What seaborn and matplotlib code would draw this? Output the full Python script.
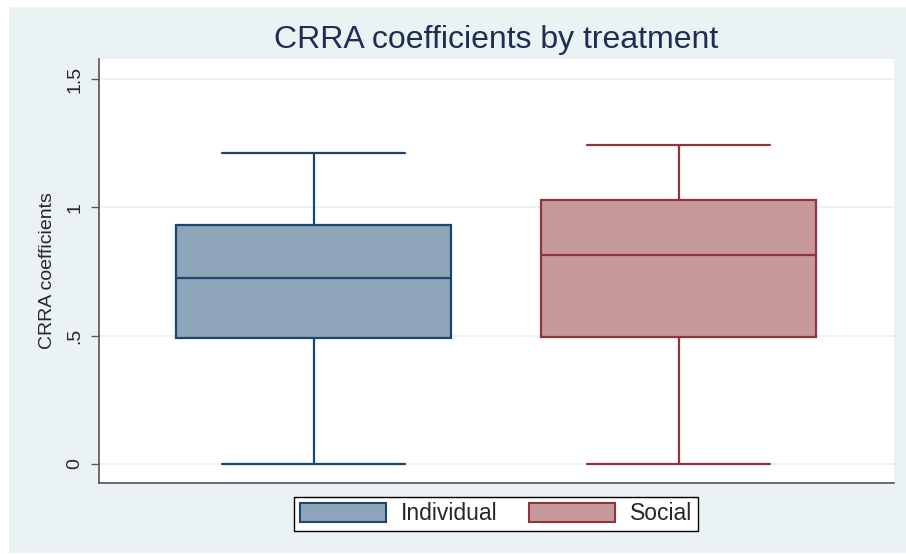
import numpy as np
import pandas as pd
import matplotlib
matplotlib.use('Agg')
import matplotlib.pyplot as plt
from matplotlib.patches import Patch, Rectangle
import seaborn as sns

# ── data (five-number summaries) ──────────────────────────────────────────
TREATMENTS = ['Individual', 'Social']
individual = [0.0, 0.490, 0.726, 0.932, 1.210]   # min, q1, median, q3, max
social = [0.0, 0.496, 0.814, 1.027, 1.243]

FILLS = ['#8DA4B9', '#C8999B']
EDGES = ['#1A476F', '#90353B']
BG = '#EAF2F3'

df = pd.DataFrame({
    'treatment': ['Individual'] * len(individual) + ['Social'] * len(social),
    'crra': individual + social,
})

sns.set_style('white')
plt.rcParams['font.family'] = ['Liberation Sans', 'DejaVu Sans']

fig = plt.figure(figsize=(9.06, 5.54), dpi=100, facecolor='white')
fig.patches.append(Rectangle((9 / 906, 1 - 553 / 554), 1 - 9 / 906, (553 - 7) / 554,
                             transform=fig.transFigure, facecolor=BG,
                             edgecolor='none', zorder=-10))
ax = fig.add_axes([99 / 906, 1 - 483 / 554, 795 / 906, 424 / 554])
ax.set_facecolor('white')

# grid lines first so boxes sit on top
for y in [0, 0.5, 1, 1.5]:
    ax.axhline(y, color=BG, lw=1.3, zorder=0)

for t, fc, ec in zip(TREATMENTS, FILLS, EDGES):
    sns.boxplot(
        data=df[df['treatment'] == t], x='treatment', y='crra',
        order=TREATMENTS, ax=ax, color=fc, linecolor=ec,
        saturation=1, width=0.753, linewidth=1.6, whis=1.5,
        capwidths=0.50, showfliers=False,
    )

ax.set_xlim(-0.588, 1.59)
ax.set_ylim(-0.074, 1.578)
ax.set_yticks([0, 0.5, 1, 1.5])
ax.set_yticklabels(['0', '.5', '1', '1.5'], rotation=90, va='center', fontsize=14)
ax.tick_params(axis='y', length=6, width=1, color='#555555', pad=5, left=True)
ax.set_xticks([])
ax.set_xlabel('')
ax.set_ylabel('CRRA coefficients', fontsize=14, labelpad=8)

for side in ['top', 'right']:
    ax.spines[side].set_visible(False)
for side in ['left', 'bottom']:
    ax.spines[side].set_color('#555555')
    ax.spines[side].set_linewidth(1.2)

fig.text(496 / 906, 1 - 40 / 554, 'CRRA coefficients by treatment',
         ha='center', va='center', fontsize=23, color='#1E2D53')

handles = [Patch(facecolor=fc, edgecolor=ec, linewidth=1.5)
           for fc, ec in zip(FILLS, EDGES)]
leg = fig.legend(handles, TREATMENTS, loc='center', ncol=2,
                 bbox_to_anchor=(496 / 906, 1 - 514 / 554), fontsize=16.5,
                 frameon=True, fancybox=False, edgecolor='black',
                 facecolor='white', framealpha=1,
                 handlelength=3.75, handleheight=0.85, columnspacing=1.4,
                 handletextpad=0.65, borderpad=0.25)
leg.get_frame().set_linewidth(1.0)

fig.savefig('out.png', dpi=100, facecolor=fig.get_facecolor())
